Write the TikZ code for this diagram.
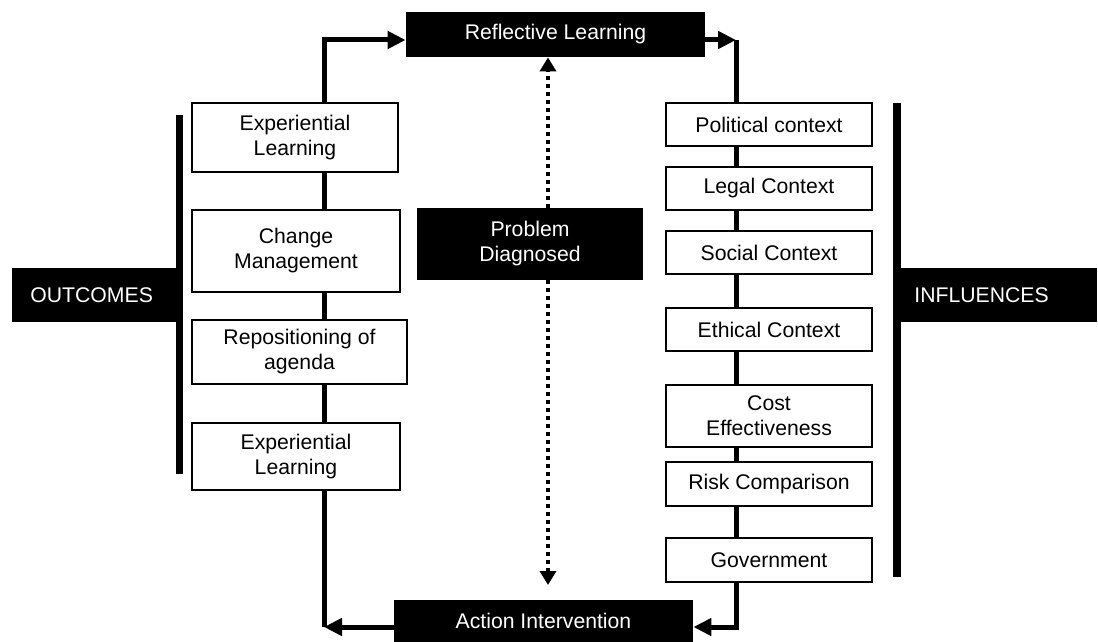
\documentclass[tikz,border=0pt]{standalone}
\usepackage{fontspec}
\setmainfont{Liberation Sans}
\usepackage{tikz}
\usetikzlibrary{arrows.meta,positioning,calc}

\tikzset{
  factor/.style={draw,rectangle,fill=white,line width=0.8pt,align=center,inner sep=1pt},
  stage/.style={rectangle,fill=black,text=white,align=center,inner sep=1pt},
  side/.style={rectangle,fill=black,text=white,align=left,minimum height=27pt,inner ysep=1pt},
  flow/.style={line width=2.5pt},
  flowtip/.style={-{Triangle[length=9pt,width=8.5pt]}},
  bar/.style={line width=3.5pt},
  dots/.style={line width=2pt,dash pattern=on 2pt off 2pt,-{Triangle[length=7pt,width=8pt]}}
}

\begin{document}
\begin{tikzpicture}[x=0.5pt,y=-0.5pt,font=\fontsize{10.6}{12.5}\selectfont]
    \useasboundingbox (0,0) rectangle (1098,642);

    % Cycle stages
    \node[stage,minimum width=149.5pt,minimum height=22.5pt] (refl) at (555.5,34.5) {Reflective Learning};
    \node[stage,minimum width=149.5pt,minimum height=21pt] (act) at (543.5,621) {Action Intervention};
    \node[stage,minimum width=113pt,minimum height=36pt] (prob) at (530,244) {Problem\\Diagnosed};

    % Outcomes column
    \node[factor,minimum width=103pt,minimum height=34.5pt] (exp1) at (295,137.5) {Experiential\\Learning};
    \node[factor,minimum width=104pt,minimum height=41pt] (chg) at (296,251) {Change\\Management};
    \node[factor,minimum width=107.5pt,minimum height=32pt] (repo) at (299.5,352) {Repositioning of\\agenda};
    \node[factor,minimum width=104pt,minimum height=33.5pt] (exp2) at (296,456.5) {Experiential\\Learning};

    % Influences column
    \node[factor,minimum width=103pt,minimum height=21.5pt] (pol) at (769,124.5) {Political context};
    \node[factor,minimum width=103pt,minimum height=21.5pt] (leg) at (769,188.5) {Legal Context};
    \node[factor,minimum width=103pt,minimum height=21.5pt] (soc) at (769,252.5) {Social Context};
    \node[factor,minimum width=103pt,minimum height=21.5pt] (eth) at (769,329.5) {Ethical Context};
    \node[factor,minimum width=103pt,minimum height=31pt] (cost) at (769,416) {Cost\\Effectiveness};
    \node[factor,minimum width=103pt,minimum height=22pt] (risk) at (769,484) {Risk Comparison};
    \node[factor,minimum width=103pt,minimum height=22pt] (gov) at (769,560) {Government};

    % Side labels
    \node[side,text width=64pt,inner xsep=9pt,anchor=west] (outc) at (12,295) {OUTCOMES};
    \node[side,text width=85pt,inner xsep=6.5pt,anchor=west] (infl) at (901,295) {INFLUENCES};
    \coordinate (ob1) at (179.5,115);
    \coordinate (ob2) at (179.5,474);
    \coordinate (ib1) at (897,103);
    \coordinate (ib2) at (897,577);
    \draw[bar] (ob1) -- (ob2);
    \draw[bar,line width=4pt] (ib1) -- (ib2);

    % Loop corners
    \coordinate (tl) at (324,40);
    \coordinate (tr) at (736,40);
    \coordinate (bl) at (324,627);
    \coordinate (br) at (736,627);

    % Main loop
    \draw[flow,flowtip] (exp1.north -| tl) -- (tl) -- (refl.west |- tl);
    \draw[flow,flowtip] (refl.east |- tr) -- (tr);
    \draw[flow] (tr) -- (pol.north -| tr);
    \draw[flow,flowtip] (gov.south -| br) -- (br) -- (act.east |- br);
    \draw[flow,flowtip] (act.west |- bl) -- (bl);
    \draw[flow] (exp2.south -| bl) -- (bl);

    \foreach \a/\b in {exp1/chg,chg/repo,repo/exp2}
        \draw[flow] (\a.south -| tl) -- (\b.north -| tl);
    \foreach \a/\b in {pol/leg,leg/soc,soc/eth,eth/cost,cost/risk,risk/gov}
        \draw[flow] (\a.south -| tr) -- (\b.north -| tr);

    % Diagnosis link
    \coordinate (dx) at (548,0);
    \coordinate (dbot) at (548,585);
    \draw[dots] (prob.north -| dx) -- (refl.south -| dx);
    \draw[dots] (prob.south -| dx) -- (dbot);
\end{tikzpicture}
\end{document}
